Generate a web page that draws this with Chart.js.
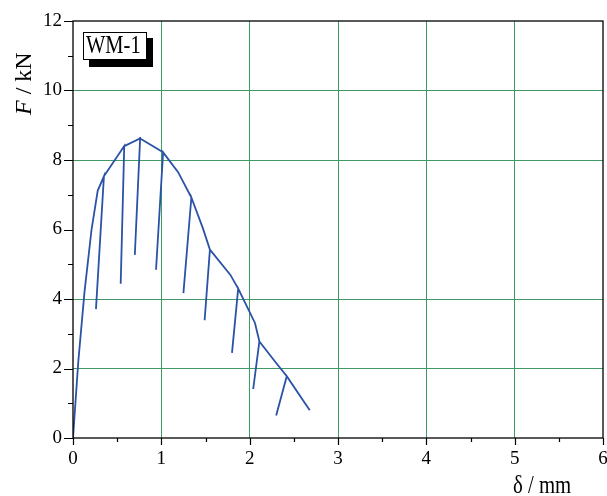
<!DOCTYPE html>
<html>
<head>
<meta charset="utf-8">
<script src="https://cdn.jsdelivr.net/npm/chart.js@4.4.0/dist/chart.umd.min.js"></script>
<style>
    html, body { margin: 0; padding: 0; background: #fff; }
    #contenedor { width: 607px; height: 496px; }
</style>
</head>
<body>
<div id="contenedor"><canvas id="grafica" width="607" height="496"></canvas></div>
<script>
// Recorrido completo del ensayo: envolvente con cada descarga (ida y vuelta)
const desplazamiento = [0, 0.06, 0.13, 0.21, 0.28, 0.35, 0.26, 0.35, 0.58, 0.54, 0.58, 0.76, 0.70, 0.76,
    1.02, 0.94, 1.02, 1.19, 1.34, 1.25, 1.34, 1.47, 1.55, 1.49, 1.55, 1.78, 1.87, 1.80, 1.87,
    2.06, 2.11, 2.04, 2.11, 2.30, 2.42, 2.30, 2.42, 2.68];
const carga = [0, 2.2, 4.2, 6.0, 7.12, 7.53, 3.71, 7.53, 8.40, 4.44, 8.40, 8.62, 5.27, 8.62,
    8.22, 4.84, 8.22, 7.65, 6.92, 4.17, 6.92, 6.04, 5.42, 3.39, 5.42, 4.70, 4.30, 2.45, 4.30,
    3.31, 2.78, 1.41, 2.78, 2.16, 1.78, 0.65, 1.78, 0.80];

const ticksX = [0, 1, 2, 3, 4, 5, 6];
const ticksY = [0, 2, 4, 6, 8, 10, 12];
const etiqueta = 'WM-1';

const verdeRejilla = '#3f9a66';
const azulCurva = '#2a52a6';
const fuente = '"Liberation Serif", "DejaVu Serif", serif';

// marco, marcas de los ejes, titulos y recuadro de la probeta
const decoracion = {
    id: 'decoracion',
    afterDraw(chart) {
        const { ctx, chartArea: a, scales: { x, y } } = chart;
        ctx.save();
        ctx.strokeStyle = '#000';
        ctx.lineWidth = 1.3;
        ctx.strokeRect(a.left, a.top, a.right - a.left, a.bottom - a.top);

        ctx.lineWidth = 1.2;
        ctx.beginPath();
        for (let v = 0; v <= 6; v += 0.5) {
            const px = Math.round(x.getPixelForValue(v)) + 0.5;
            const largo = v % 1 === 0 ? 7 : 4;
            ctx.moveTo(px, a.bottom);
            ctx.lineTo(px, a.bottom + largo);
        }
        for (let v = 0; v <= 12; v += 1) {
            const py = Math.round(y.getPixelForValue(v)) + 0.5;
            const largo = v % 2 === 0 ? 9 : 5;
            ctx.moveTo(a.left, py);
            ctx.lineTo(a.left - largo, py);
        }
        ctx.stroke();

        // recuadro con sombra
        ctx.fillStyle = '#000';
        ctx.fillRect(89, 38, 64, 29);
        ctx.fillStyle = '#fff';
        ctx.fillRect(83, 32, 64, 28);
        ctx.lineWidth = 1;
        ctx.strokeRect(83.5, 32.5, 63, 27);
        ctx.fillStyle = '#000';
        ctx.save();
        ctx.translate(86, 53);
        ctx.scale(0.82, 1);
        ctx.font = '25px ' + fuente;
        ctx.textBaseline = 'alphabetic';
        ctx.fillText(etiqueta, 0, 0);
        ctx.restore();

        // titulo eje y
        ctx.save();
        ctx.translate(31, 115);
        ctx.rotate(-Math.PI / 2);
        ctx.font = 'italic 24px ' + fuente;
        ctx.fillText('F', 0, 0);
        const anchoF = ctx.measureText('F').width;
        ctx.font = '24px ' + fuente;
        ctx.fillText(' / kN', anchoF, 0);
        ctx.restore();

        // titulo eje x
        ctx.save();
        ctx.translate(513, 493);
        ctx.scale(0.83, 1);
        ctx.font = '25px ' + fuente;
        ctx.fillText('δ / mm', 0, 0);
        ctx.restore();

        ctx.restore();
    }
};

const colorRejilla = (c) => (c.tick.value === 0 || c.tick.value === 6 || c.tick.value === 12) ? 'rgba(0,0,0,0)' : verdeRejilla;

new Chart(document.getElementById('grafica'), {
    type: 'scatter',
    data: {
        datasets: [{
            label: etiqueta,
            data: desplazamiento.map((d, i) => ({ x: d, y: carga[i] })),
            showLine: true,
            borderColor: azulCurva,
            borderWidth: 1.8,
            pointRadius: 0,
            tension: 0
        }]
    },
    options: {
        responsive: false,
        animation: false,
        layout: { padding: { top: 21, right: 4, left: 0, bottom: 0 } },
        plugins: { legend: { display: false }, tooltip: { enabled: false } },
        scales: {
            x: {
                type: 'linear',
                min: 0,
                max: 6,
                afterBuildTicks: (s) => { s.ticks = ticksX.map(v => ({ value: v })); },
                afterFit: (s) => { s.height = 58; s.paddingLeft = 0; s.paddingRight = 0; },
                ticks: { color: '#000', font: { family: fuente, size: 19 }, padding: 10 },
                grid: { color: colorRejilla, drawTicks: false, lineWidth: 1 },
                border: { display: false }
            },
            y: {
                min: 0,
                max: 12,
                afterBuildTicks: (s) => { s.ticks = ticksY.map(v => ({ value: v })); },
                afterFit: (s) => { s.width = 73; s.paddingTop = 0; s.paddingBottom = 0; },
                ticks: { color: '#000', font: { family: fuente, size: 19 }, padding: 11 },
                grid: { color: colorRejilla, drawTicks: false, lineWidth: 1 },
                border: { display: false }
            }
        }
    },
    plugins: [decoracion]
});
</script>
</body>
</html>
